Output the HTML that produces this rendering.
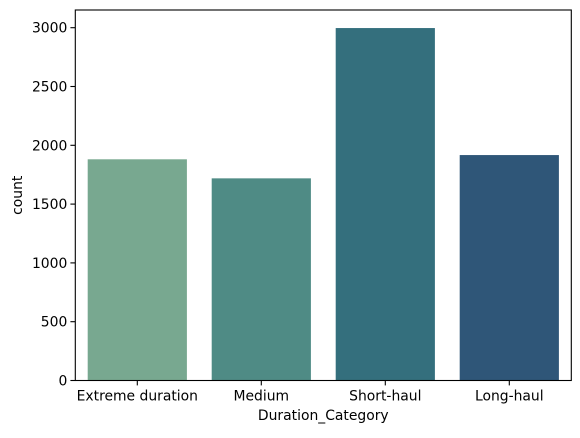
<!DOCTYPE html>
<html><head><meta charset="utf-8"><style>
body{margin:0;background:#fff}
svg text{font-family:"DejaVu Sans","Liberation Sans",sans-serif;font-size:13.9px;fill:#000}
</style></head><body>
<svg id="c" width="580" height="433">
</svg>
<script>
const categories=["Extreme duration","Medium","Short-haul","Long-haul"];
const counts=[1881,1719,2997,1917];
const colors=["#78a890","#4f8b85","#346f7d","#2f5678"];
const yTicks=[0,500,1000,1500,2000,2500,3000];
const L=75.3,R=571.3,T=10,B=380.5;
const svg=document.getElementById('c');const NS='http://www.w3.org/2000/svg';
function y(v){return B-v*(B-27.7)/3000;}
const band=(R-L)/categories.length;
function x(i){return L+band*i+band/2;}
function mk(t,a,p){const e=document.createElementNS(NS,t);for(const k in a)e.setAttribute(k,a[k]);(p||svg).appendChild(e);return e;}
categories.forEach((c,i)=>{
 const r=mk('rect',{x:x(i)-band*0.4,y:y(counts[i]),width:band*0.8,height:B-y(counts[i]),fill:colors[i]});
 
 
 mk('line',{x1:x(i),x2:x(i),y1:B,y2:B+4.9,stroke:'#000','stroke-width':1.1});
 const t=mk('text',{x:x(i),y:B+20,'text-anchor':'middle'});t.textContent=c;
 
 
});
yTicks.forEach(v=>{
 mk('line',{x1:L-4.9,x2:L,y1:y(v),y2:y(v),stroke:'#000','stroke-width':1.1});
 const t=mk('text',{x:L-8,y:y(v)+5,'text-anchor':'end'});t.textContent=v;
 
 
});
const f=mk('rect',{x:L,y:T,width:R-L,height:B-T,fill:'none',stroke:'#000','stroke-width':1.1});


const xt=mk('text',{x:(L+R)/2,y:420,'text-anchor':'middle'});xt.textContent='Duration_Category';


const yt=mk('text',{x:0,y:0,'text-anchor':'middle',transform:`translate(22,${(T+B)/2}) rotate(-90)`});yt.textContent='count';


</script>
</body></html>
